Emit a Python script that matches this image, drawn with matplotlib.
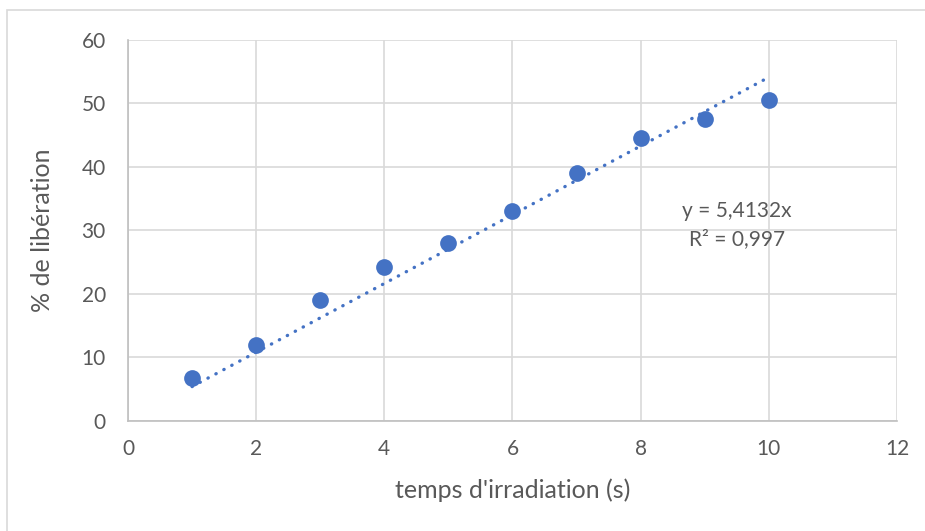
import matplotlib.pyplot as plt
import numpy as np

plt.rcParams['font.family'] = ['Lato', 'DejaVu Sans']

# data
temps = [1, 2, 3, 4, 5, 6, 7, 8, 9, 10]
liberation = [6.8, 12.0, 19.0, 24.2, 28.1, 33.0, 39.0, 44.5, 47.6, 50.6]
pente = 5.4132  # trendline y = a*x
r2_label = "R² = 0,997"
eq_label = "y = 5,4132x"

blue = '#4472C4'
grey_txt = '#595959'
grid_col = '#D9D9D9'

fig = plt.figure(figsize=(9.25, 5.31), dpi=100)
# chart area border
fig.patches.append(plt.Rectangle((7 / 925, -0.01), 1.0, 1 - 10 / 531 + 0.01,
                                 transform=fig.transFigure, fill=False,
                                 edgecolor=grid_col, linewidth=1.2))

ax = fig.add_axes([0.1384, 0.2072, 0.9697 - 0.1384, 0.9247 - 0.2072])

# trendline (dotted)
xt = np.array([temps[0], temps[-1]])
ax.plot(xt, pente * xt, linestyle=(0, (0.1, 2.6)), color=blue, linewidth=2.4,
        dash_capstyle='round', zorder=2)

ax.scatter(temps, liberation, s=145, color=blue, zorder=3, linewidths=0)

ax.set_xlim(0, 12)
ax.set_ylim(0, 60)
ax.set_xticks(range(0, 13, 2))
ax.set_yticks(range(0, 61, 10))
ax.grid(True, color=grid_col, linewidth=1.2)
ax.set_axisbelow(True)
for s in ['top', 'right']:
    ax.spines[s].set_visible(False)
for s in ['left', 'bottom']:
    ax.spines[s].set_color('#BFBFBF')
    ax.spines[s].set_linewidth(1.2)
ax.tick_params(length=0, labelsize=15, colors=grey_txt)
ax.tick_params(axis='x', pad=13)
ax.tick_params(axis='y', pad=16)

ax.set_xlabel("temps d'irradiation (s)", fontsize=18, color=grey_txt, labelpad=14)
ax.set_ylabel("% de libération", fontsize=18, color=grey_txt, labelpad=20)

ax.text(9.5, 33.0, eq_label, fontsize=15, color=grey_txt, ha='center', va='center')
ax.text(9.5, 28.6, r2_label, fontsize=15, color=grey_txt, ha='center', va='center')

fig.savefig('out.png', dpi=100)
